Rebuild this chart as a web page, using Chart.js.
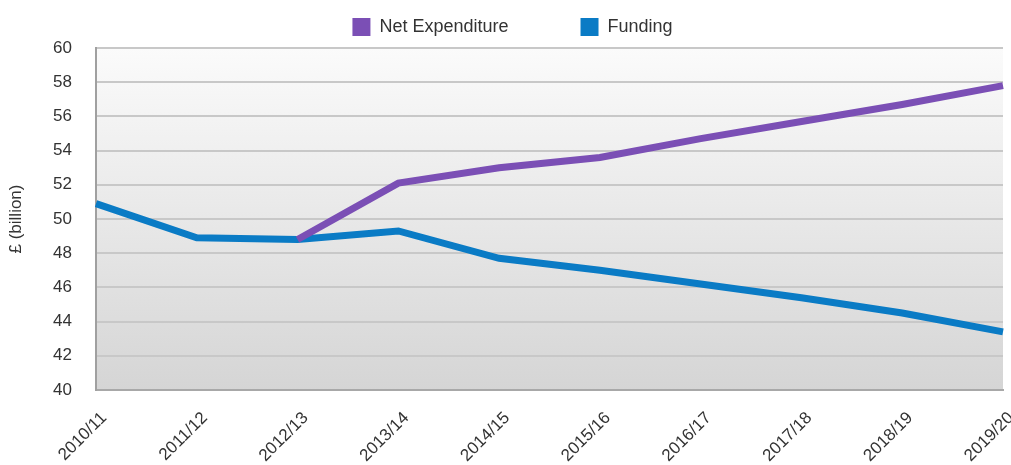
<!DOCTYPE html>
<html>
<head>
<meta charset="utf-8">
<script src="https://cdn.jsdelivr.net/npm/chart.js@4/dist/chart.umd.min.js"></script>
<style>
  html, body { margin: 0; padding: 0; background: #ffffff; }
  #wrap { width: 1011px; height: 465px; }
</style>
</head>
<body>
<div id="wrap"><canvas id="chart"></canvas></div>
<script>
"use strict";

var years = ["2010/11", "2011/12", "2012/13", "2013/14", "2014/15",
             "2015/16", "2016/17", "2017/18", "2018/19", "2019/20"];
var netExpenditure = [null, null, 48.8, 52.1, 53.0, 53.6, 54.7, 55.7, 56.7, 57.8];
var funding = [50.9, 48.9, 48.8, 49.3, 47.7, 47.0, 46.2, 45.4, 44.5, 43.4];

var purple = "#7b4fb5";
var blue = "#0a7bc5";

var legendGap = 72;     // space between the two legend items
var legendHeight = 48;  // height kept for the legend row
var legendBoxTop = 18;
var legendShift = 9;

// grey gradient behind the plot area, light at top, darker at bottom
var plotBackground = {
  id: "plotBackground",
  beforeDraw: function(chart) {
    var area = chart.chartArea;
    var ctx = chart.ctx;
    var grad = ctx.createLinearGradient(0, area.top, 0, area.bottom);
    grad.addColorStop(0, "#fbfbfb");
    grad.addColorStop(1, "#d5d5d5");
    ctx.save();
    ctx.fillStyle = grad;
    ctx.fillRect(area.left, area.top, area.right - area.left, area.bottom - area.top);
    ctx.restore();
  }
};

// wide gap between legend items without a tall legend box
var legendSpacing = {
  id: "legendSpacing",
  afterInit: function(chart) {
    var legend = chart.legend;
    var fit = legend.fit;
    legend.fit = function() {
      fit.call(this);
      this.height = legendHeight;
    };
  },
  afterLayout: function(chart) {
    var legend = chart.legend;
    legend.top = legendBoxTop - legendGap;
    legend.left += legendShift;
    legend.right += legendShift;
  }
};

var ctx = document.getElementById("chart");
new Chart(ctx, {
  type: "line",
  plugins: [plotBackground, legendSpacing],
  data: {
    labels: years,
    datasets: [{
      label: "Net Expenditure",
      data: netExpenditure,
      borderColor: purple,
      backgroundColor: purple,
      borderWidth: 7,
      pointRadius: 0,
      tension: 0
    }, {
      label: "Funding",
      data: funding,
      borderColor: blue,
      backgroundColor: blue,
      borderWidth: 7,
      pointRadius: 0,
      tension: 0
    }]
  },
  options: {
    responsive: true,
    maintainAspectRatio: false,
    animation: false,
    layout: {
      padding: { left: 4, right: 8, top: 0, bottom: 0 }
    },
    plugins: {
      legend: {
        display: true,
        position: "top",
        labels: {
          boxWidth: 18,
          boxHeight: 18,
          padding: legendGap,
          color: "#333333",
          font: { family: "Liberation Sans", size: 18 },
          generateLabels: function(chart) {
            var items = Chart.defaults.plugins.legend.labels.generateLabels(chart);
            items.forEach(function(item) { item.lineWidth = 0; });
            return items;
          }
        }
      },
      tooltip: { enabled: false }
    },
    scales: {
      x: {
        offset: false,
        grid: { display: false, drawTicks: false },
        border: { display: true, color: "#a8a8a8", width: 2 },
        afterFit: function(scale) {
          scale.paddingLeft = 0;
          scale.paddingRight = 0;
          scale.height = 75;
        },
        ticks: {
          maxRotation: 45,
          minRotation: 45,
          padding: 18,
          labelOffset: 8,
          color: "#333333",
          font: { family: "Liberation Sans", size: 17 }
        }
      },
      y: {
        min: 40,
        max: 60,
        grid: { color: "#c8c8c8", lineWidth: 2, drawTicks: false },
        border: { display: true, color: "#a0a0a0", width: 2 },
        afterFit: function(scale) {
          scale.width = 92;
        },
        title: {
          display: true,
          text: "£ (billion)",
          color: "#333333",
          padding: { top: 2, bottom: 24 },
          font: { family: "Liberation Sans", size: 17 }
        },
        ticks: {
          stepSize: 2,
          padding: 24,
          color: "#333333",
          font: { family: "Liberation Sans", size: 17 }
        }
      }
    }
  }
});
</script>
</body>
</html>
